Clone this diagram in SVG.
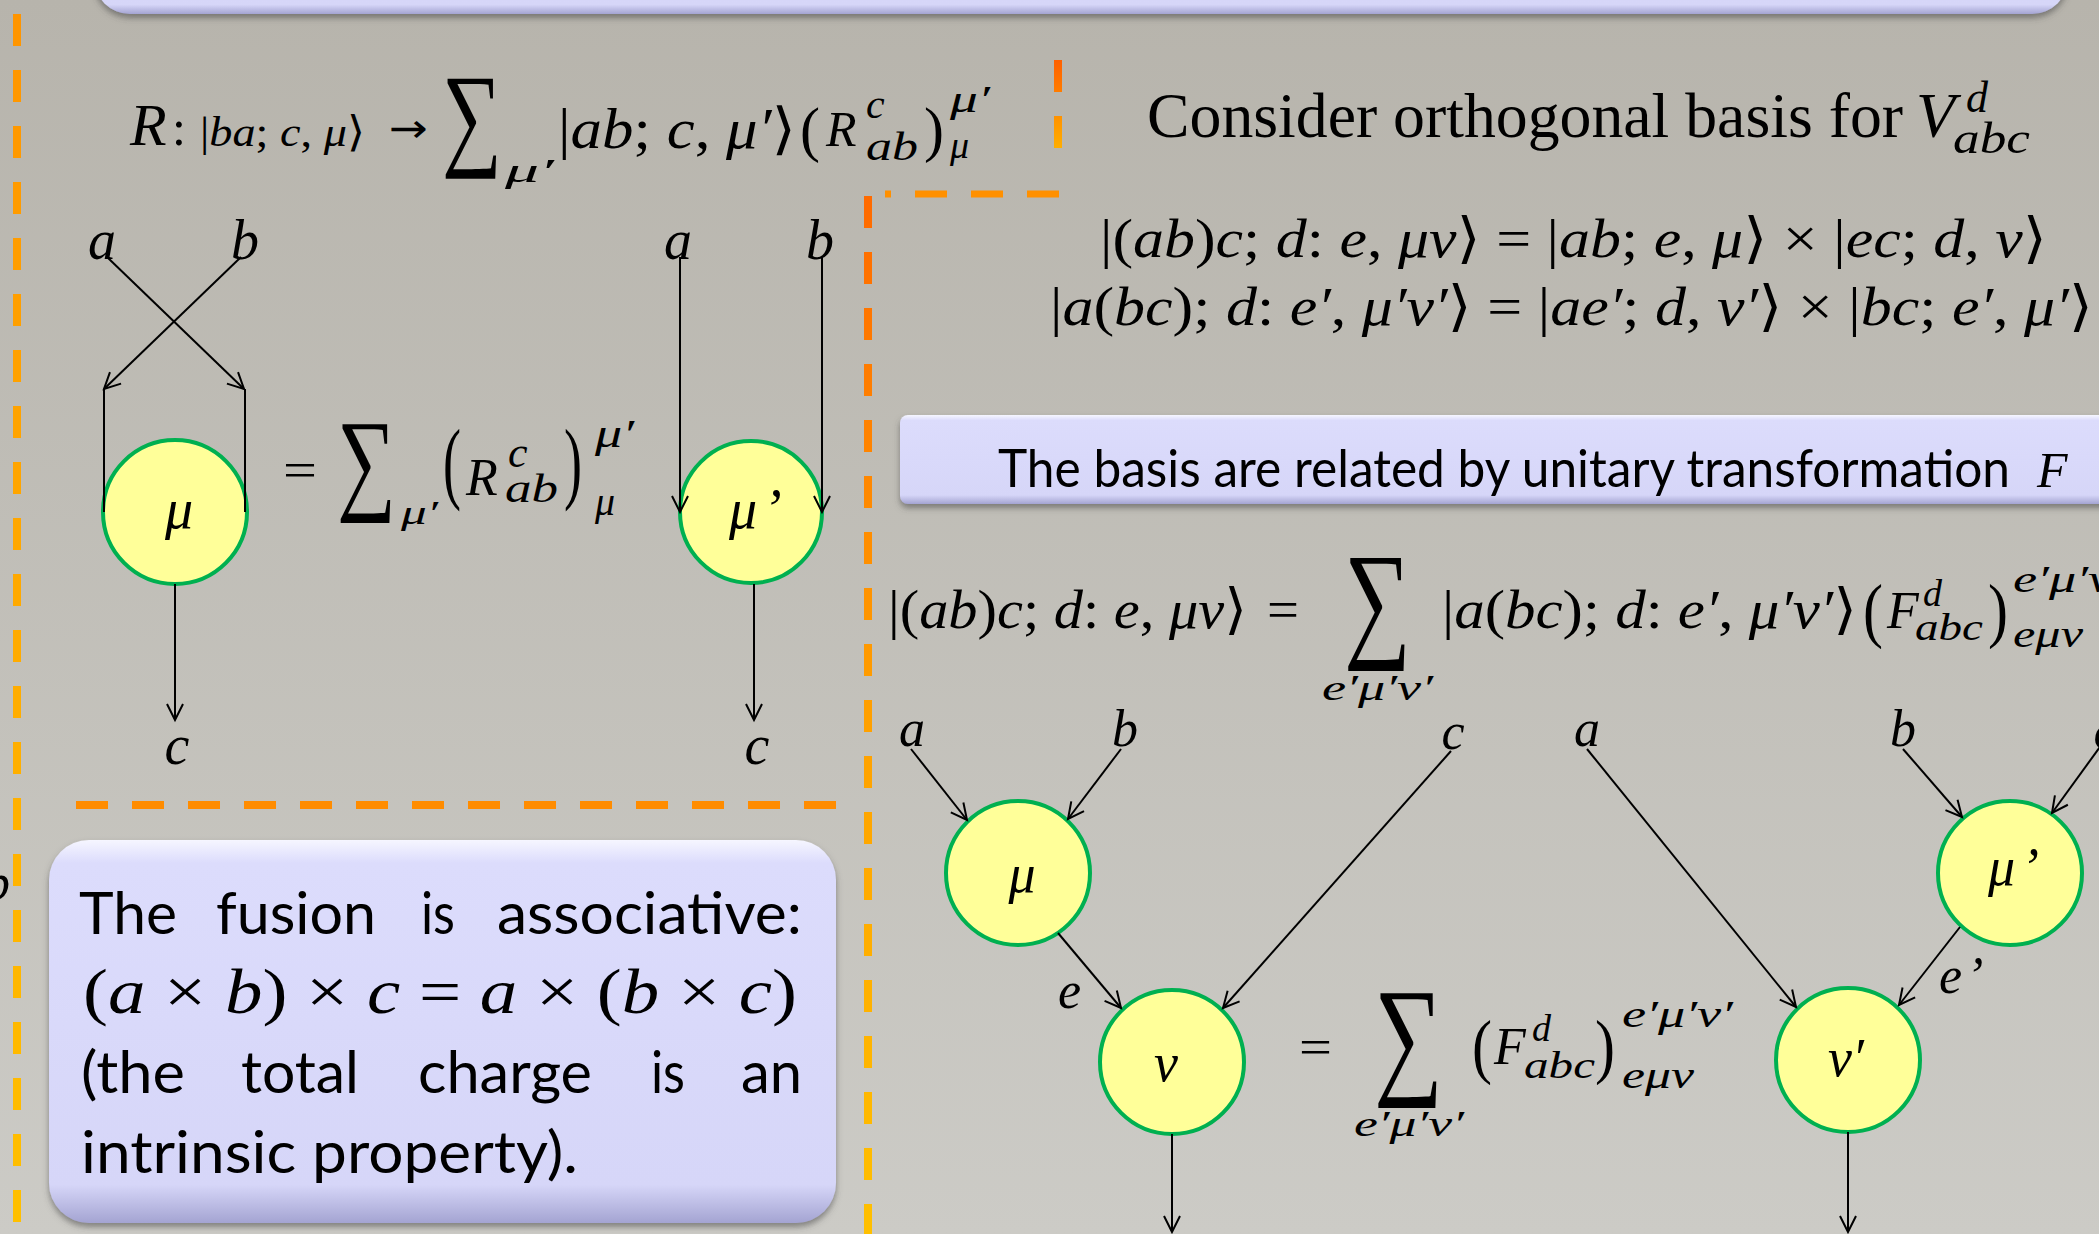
<svg xmlns="http://www.w3.org/2000/svg" width="2099" height="1234" viewBox="0 0 2099 1234">
<defs>
<linearGradient id="bg" x1="0" y1="0" x2="0" y2="1"><stop offset="0" stop-color="#b7b4ac"/><stop offset="1" stop-color="#cccbc6"/></linearGradient>
<linearGradient id="boxg" x1="0" y1="0" x2="0" y2="1"><stop offset="0" stop-color="#f6f6ff"/><stop offset="0.06" stop-color="#dcdcfc"/><stop offset="0.9" stop-color="#d6d6f8"/><stop offset="1" stop-color="#a4a4d2"/></linearGradient>
<linearGradient id="gL" gradientUnits="userSpaceOnUse" x1="0" y1="0" x2="0" y2="1234"><stop offset="0" stop-color="#ff9400"/><stop offset="1" stop-color="#ffc000"/></linearGradient>
<linearGradient id="gM" gradientUnits="userSpaceOnUse" x1="0" y1="196" x2="0" y2="1234"><stop offset="0" stop-color="#ff6a00"/><stop offset="0.5" stop-color="#ffa000"/><stop offset="1" stop-color="#ffc000"/></linearGradient>
<linearGradient id="gT" gradientUnits="userSpaceOnUse" x1="0" y1="60" x2="0" y2="150"><stop offset="0" stop-color="#ff6000"/><stop offset="1" stop-color="#ffb000"/></linearGradient>
<filter id="sh" x="-5%" y="-5%" width="110%" height="120%"><feDropShadow dx="0" dy="4" stdDeviation="3" flood-color="#444" flood-opacity="0.55"/></filter>
<marker id="ah" viewBox="-2 -10 22 20" markerWidth="22" markerHeight="20" refX="16" refY="0" orient="auto" markerUnits="userSpaceOnUse"><path d="M0,-8 L16,0 L0,8" fill="none" stroke="#000" stroke-width="2"/></marker>
<style>
.m{font-family:"Liberation Serif","DejaVu Serif",serif;font-style:italic;fill:#000}
.r{font-family:"Liberation Serif","DejaVu Serif",serif;font-style:normal;fill:#000}
.t{font-family:"Liberation Serif","Times New Roman",serif;fill:#000}
.cal{font-family:Lato,"Open Sans",sans-serif;fill:#000}
.nd{fill:#ffff99;stroke:#00b050;stroke-width:4}
.cn{stroke:#000;stroke-width:2;fill:none}
.ar{marker-end:url(#ah)}
.box{fill:url(#boxg);filter:url(#sh)}
.dash{fill:none;stroke-width:8;stroke-dasharray:32 24}
</style>
</defs>
<rect width="2099" height="1234" fill="url(#bg)"/>

<g id="boxes">
<rect class="box" x="94" y="-80" width="1974" height="94" rx="36"/>
<rect class="box" x="900" y="415" width="1240" height="89" rx="8"/>
<rect class="box" x="49" y="840" width="787" height="383" rx="40"/>
</g>

<g id="dashed-frames">
<path class="dash" d="M17,14 V1234" stroke="url(#gL)"/>
<path class="dash" d="M868,196 V1234" stroke="url(#gM)"/>
<path class="dash" d="M1058,60 V150" stroke="url(#gT)"/>
<path d="M1059,194 H885" fill="none" stroke="#ff9000" stroke-width="7" stroke-dasharray="32 24"/>
<path d="M76,805 H836" fill="none" stroke="#ff8c00" stroke-width="8" stroke-dasharray="32 24"/>
</g>

<text class="m" x="-16" y="900" font-size="52">b</text>

<g id="eq-R">
<text class="m" x="130" y="145" font-size="60">R</text>
<text class="r" x="172" y="145" font-size="50">:</text>
<text class="m" x="200" y="146" font-size="42" textLength="165" lengthAdjust="spacingAndGlyphs"><tspan class="r">|</tspan>ba<tspan class="r">; </tspan>c<tspan class="r">, </tspan>μ<tspan class="r">⟩</tspan></text>
<text x="389" y="142" font-family="DejaVu Sans, sans-serif" font-size="40" textLength="39" lengthAdjust="spacingAndGlyphs" fill="#000">→</text>
<text class="r" x="442" y="154" font-size="115" textLength="60" lengthAdjust="spacingAndGlyphs">∑</text>
<text class="m" x="505" y="182" font-size="34" textLength="49" lengthAdjust="spacingAndGlyphs">μ′</text>
<text class="m" x="558" y="148" font-size="56" textLength="238" lengthAdjust="spacingAndGlyphs"><tspan class="r">|</tspan>ab<tspan class="r">; </tspan>c<tspan class="r">, </tspan>μ′<tspan class="r">⟩</tspan></text>
<text class="r" x="800" y="150" font-size="62" textLength="20" lengthAdjust="spacingAndGlyphs">(</text>
<text class="m" x="826" y="146" font-size="50">R</text>
<text class="m" x="866" y="118" font-size="42">c</text>
<text class="m" x="866" y="160" font-size="40" textLength="52" lengthAdjust="spacingAndGlyphs">ab</text>
<text class="r" x="924" y="150" font-size="62" textLength="20" lengthAdjust="spacingAndGlyphs">)</text>
<text class="m" x="950" y="112" font-size="38" textLength="40" lengthAdjust="spacingAndGlyphs">μ′</text>
<text class="m" x="950" y="158" font-size="38">μ</text>
</g>

<g id="eq-basis">
<text class="t" x="1147" y="137" font-size="64" textLength="756" lengthAdjust="spacingAndGlyphs">Consider orthogonal basis for</text>
<text class="m" x="1916" y="137" font-size="64">V</text>
<text class="m" x="1966" y="112" font-size="44">d</text>
<text class="m" x="1953" y="153" font-size="44" textLength="77" lengthAdjust="spacingAndGlyphs">abc</text>
<text class="m" x="1100" y="257" font-size="55" textLength="947" lengthAdjust="spacingAndGlyphs"><tspan class="r">|(</tspan>ab<tspan class="r">)</tspan>c<tspan class="r">; </tspan>d<tspan class="r">: </tspan>e<tspan class="r">, </tspan>μν<tspan class="r">⟩ = |</tspan>ab<tspan class="r">; </tspan>e<tspan class="r">, </tspan>μ<tspan class="r">⟩ × |</tspan>ec<tspan class="r">; </tspan>d<tspan class="r">, </tspan>ν<tspan class="r">⟩</tspan></text>
<text class="m" x="1050" y="325" font-size="55" textLength="1043" lengthAdjust="spacingAndGlyphs"><tspan class="r">|</tspan>a<tspan class="r">(</tspan>bc<tspan class="r">); </tspan>d<tspan class="r">: </tspan>e′<tspan class="r">, </tspan>μ′ν′<tspan class="r">⟩ = |</tspan>ae′<tspan class="r">; </tspan>d<tspan class="r">, </tspan>ν′<tspan class="r">⟩ × |</tspan>bc<tspan class="r">; </tspan>e′<tspan class="r">, </tspan>μ′<tspan class="r">⟩</tspan></text>
</g>

<g id="box-F-title">
<text class="cal" x="998" y="487" font-size="52" textLength="1012" lengthAdjust="spacingAndGlyphs">The basis are related by unitary transformation</text>
<text class="m" x="2037" y="487" font-size="50">F</text>
</g>

<g id="eq-F">
<text class="m" x="888" y="628" font-size="55" textLength="359" lengthAdjust="spacingAndGlyphs"><tspan class="r">|(</tspan>ab<tspan class="r">)</tspan>c<tspan class="r">; </tspan>d<tspan class="r">: </tspan>e<tspan class="r">, </tspan>μν<tspan class="r">⟩</tspan></text>
<text class="r" x="1267" y="628" font-size="55" textLength="32" lengthAdjust="spacingAndGlyphs">=</text>
<text class="r" x="1344" y="643" font-size="130" textLength="67" lengthAdjust="spacingAndGlyphs">∑</text>
<text class="m" x="1322" y="700" font-size="36" textLength="111" lengthAdjust="spacingAndGlyphs">e′μ′ν′</text>
<text class="m" x="1442" y="628" font-size="55" textLength="415" lengthAdjust="spacingAndGlyphs"><tspan class="r">|</tspan>a<tspan class="r">(</tspan>bc<tspan class="r">); </tspan>d<tspan class="r">: </tspan>e′<tspan class="r">, </tspan>μ′ν′<tspan class="r">⟩</tspan></text>
<text class="r" x="1863" y="634" font-size="72" textLength="20" lengthAdjust="spacingAndGlyphs">(</text>
<text class="m" x="1887" y="628" font-size="52">F</text>
<text class="m" x="1923" y="606" font-size="38">d</text>
<text class="m" x="1915" y="640" font-size="38" textLength="68" lengthAdjust="spacingAndGlyphs">abc</text>
<text class="r" x="1988" y="634" font-size="72" textLength="20" lengthAdjust="spacingAndGlyphs">)</text>
<text class="m" x="2013" y="592" font-size="38" textLength="111" lengthAdjust="spacingAndGlyphs">e′μ′ν′</text>
<text class="m" x="2013" y="647" font-size="38" textLength="70" lengthAdjust="spacingAndGlyphs">eμν</text>
</g>

<g id="eq-R-diagram">
<text class="r" x="283" y="487" font-size="50" textLength="34" lengthAdjust="spacingAndGlyphs">=</text>
<text class="r" x="337" y="499" font-size="114" textLength="59" lengthAdjust="spacingAndGlyphs">∑</text>
<text class="m" x="401" y="524" font-size="34" textLength="37" lengthAdjust="spacingAndGlyphs">μ′</text>
<text class="r" x="443" y="492" font-size="90" textLength="18" lengthAdjust="spacingAndGlyphs">(</text>
<text class="m" x="466" y="495" font-size="52">R</text>
<text class="m" x="508" y="467" font-size="44">c</text>
<text class="m" x="505" y="502" font-size="40" textLength="53" lengthAdjust="spacingAndGlyphs">ab</text>
<text class="r" x="564" y="492" font-size="90" textLength="18" lengthAdjust="spacingAndGlyphs">)</text>
<text class="m" x="595" y="447" font-size="40" textLength="39" lengthAdjust="spacingAndGlyphs">μ′</text>
<text class="m" x="595" y="515" font-size="40">μ</text>
</g>

<g id="eq-F-diagram">
<text class="r" x="1299" y="1064" font-size="50" textLength="33" lengthAdjust="spacingAndGlyphs">=</text>
<text class="r" x="1374" y="1080" font-size="132" textLength="69" lengthAdjust="spacingAndGlyphs">∑</text>
<text class="m" x="1354" y="1136" font-size="36" textLength="110" lengthAdjust="spacingAndGlyphs">e′μ′ν′</text>
<text class="r" x="1472" y="1070" font-size="72" textLength="20" lengthAdjust="spacingAndGlyphs">(</text>
<text class="m" x="1494" y="1064" font-size="52">F</text>
<text class="m" x="1532" y="1041" font-size="38">d</text>
<text class="m" x="1524" y="1078" font-size="38" textLength="71" lengthAdjust="spacingAndGlyphs">abc</text>
<text class="r" x="1595" y="1070" font-size="72" textLength="20" lengthAdjust="spacingAndGlyphs">)</text>
<text class="m" x="1622" y="1027" font-size="38" textLength="111" lengthAdjust="spacingAndGlyphs">e′μ′ν′</text>
<text class="m" x="1622" y="1088" font-size="38" textLength="72" lengthAdjust="spacingAndGlyphs">eμν</text>
</g>

<g id="box-assoc">
<text class="cal" x="79" y="934" font-size="58" textLength="98" lengthAdjust="spacingAndGlyphs">The</text>
<text class="cal" x="216" y="934" font-size="58" textLength="160" lengthAdjust="spacingAndGlyphs">fusion</text>
<text class="cal" x="421" y="934" font-size="58" textLength="34" lengthAdjust="spacingAndGlyphs">is</text>
<text class="cal" x="497" y="934" font-size="58" textLength="305" lengthAdjust="spacingAndGlyphs">associative:</text>
<text class="m" x="83" y="1013" font-size="64" textLength="714" lengthAdjust="spacingAndGlyphs"><tspan class="r">(</tspan>a <tspan class="r">×</tspan> b<tspan class="r">) × </tspan>c <tspan class="r">=</tspan> a <tspan class="r">× (</tspan>b <tspan class="r">×</tspan> c<tspan class="r">)</tspan></text>
<text class="cal" x="81" y="1093" font-size="58" textLength="104" lengthAdjust="spacingAndGlyphs">(the</text>
<text class="cal" x="241" y="1093" font-size="58" textLength="118" lengthAdjust="spacingAndGlyphs">total</text>
<text class="cal" x="418" y="1093" font-size="58" textLength="174" lengthAdjust="spacingAndGlyphs">charge</text>
<text class="cal" x="651" y="1093" font-size="58" textLength="34" lengthAdjust="spacingAndGlyphs">is</text>
<text class="cal" x="741" y="1093" font-size="58" textLength="61" lengthAdjust="spacingAndGlyphs">an</text>
<text class="cal" x="81" y="1173" font-size="58" textLength="497" lengthAdjust="spacingAndGlyphs">intrinsic property).</text>
</g>

<g id="node-R-mu">
<circle class="nd" cx="175" cy="512" r="72"/>
<text class="m" x="179" y="528" font-size="56" text-anchor="middle">μ</text>
</g>
<g id="node-R-mu-prime">
<circle class="nd" cx="751" cy="512" r="71"/>
<text class="m" x="729" y="528" font-size="56">μ<tspan dx="6">’</tspan></text>
</g>
<g id="node-F-mu">
<circle class="nd" cx="1018" cy="873" r="72"/>
<text class="m" x="1022" y="892" font-size="54" text-anchor="middle">μ</text>
</g>
<g id="node-F-nu">
<circle class="nd" cx="1172" cy="1062" r="72"/>
<text class="m" x="1166" y="1081" font-size="54" text-anchor="middle">ν</text>
</g>
<g id="node-F-nu-prime">
<circle class="nd" cx="1848" cy="1060" r="72"/>
<text class="m" x="1846" y="1076" font-size="54" text-anchor="middle">ν′</text>
</g>
<g id="node-F-mu-prime">
<circle class="nd" cx="2010" cy="873" r="72"/>
<text class="m" x="1988" y="885" font-size="54">μ<tspan dx="6">’</tspan></text>
</g>

<g id="connectors">
<path class="cn ar" d="M107,257 L244,389"/>
<path class="cn ar" d="M241,257 L104,389"/>
<path class="cn" d="M245,389 V512"/>
<path class="cn" d="M104,389 V512"/>
<path class="cn ar" d="M175,584 V720"/>
<path class="cn ar" d="M680,257 V512"/>
<path class="cn ar" d="M822,257 V512"/>
<path class="cn ar" d="M754,584 V720"/>
<path class="cn ar" d="M911,749 L967,820"/>
<path class="cn ar" d="M1121,749 L1068,819"/>
<path class="cn ar" d="M1058,933 L1121,1008"/>
<path class="cn ar" d="M1451,751 L1223,1008"/>
<path class="cn ar" d="M1172,1134 V1232"/>
<path class="cn ar" d="M1587,749 L1796,1007"/>
<path class="cn ar" d="M1903,749 L1962,817"/>
<path class="cn ar" d="M2105,740 L2052,813"/>
<path class="cn ar" d="M1960,927 L1899,1005"/>
<path class="cn ar" d="M1848,1132 V1232"/>
</g>

<g id="edge-labels">
<text class="m" x="102" y="259" font-size="56" text-anchor="middle">a</text>
<text class="m" x="245" y="259" font-size="56" text-anchor="middle">b</text>
<text class="m" x="177" y="764" font-size="56" text-anchor="middle">c</text>
<text class="m" x="678" y="259" font-size="56" text-anchor="middle">a</text>
<text class="m" x="820" y="259" font-size="56" text-anchor="middle">b</text>
<text class="m" x="757" y="764" font-size="56" text-anchor="middle">c</text>
<text class="m" x="912" y="746" font-size="52" text-anchor="middle">a</text>
<text class="m" x="1125" y="746" font-size="52" text-anchor="middle">b</text>
<text class="m" x="1453" y="749" font-size="52" text-anchor="middle">c</text>
<text class="m" x="1587" y="746" font-size="52" text-anchor="middle">a</text>
<text class="m" x="1903" y="746" font-size="52" text-anchor="middle">b</text>
<text class="m" x="2105" y="748" font-size="52" text-anchor="middle">c</text>
<text class="m" x="1058" y="1008" font-size="52">e</text>
<text class="m" x="1939" y="993" font-size="52">e<tspan dx="4">’</tspan></text>
</g>
</svg>
